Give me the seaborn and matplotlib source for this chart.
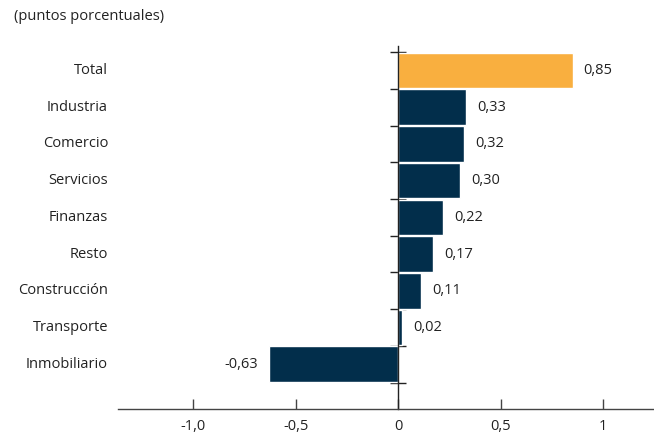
import numpy as np
import pandas as pd
import matplotlib
matplotlib.use('Agg')
import matplotlib.pyplot as plt
import matplotlib.transforms as mtransforms
import seaborn as sns

# datos
sectores = ['Total', 'Industria', 'Comercio', 'Servicios', 'Finanzas', 'Resto',
            'Construcción', 'Transporte', 'Inmobiliario']
valores = [0.85, 0.33, 0.32, 0.30, 0.22, 0.17, 0.11, 0.02, -0.63]
etiquetas = ['0,85', '0,33', '0,32', '0,30', '0,22', '0,17', '0,11', '0,02', '-0,63']
xticks = [-1.0, -0.5, 0, 0.5, 1]
xtick_labels = ['-1,0', '-0,5', '0', '0,5', '1']

naranja = '#F9AF3F'
azul = '#022E4B'

sns.set_style('white')
plt.rcParams['font.family'] = ['Open Sans', 'DejaVu Sans']
fs = 10.5

df = pd.DataFrame({'sector': sectores, 'valor': valores})
colores = [naranja] + [azul] * (len(sectores) - 1)

fig = plt.figure(figsize=(6.54, 4.37), dpi=100)
ax = fig.add_axes([0.180, 0.064, 0.818, 0.830])

sns.barplot(data=df, x='valor', y='sector', hue='sector', palette=colores,
            orient='h', width=0.97, saturation=1, legend=False, ax=ax)

n = len(sectores)
ax.set_xlim(-1.369, 1.241)
ax.set_ylim(n - 1 + 1.22, -0.66)

# eje vertical en cero con marcas entre categorías
ax.spines['left'].set_position(('data', 0))
ax.spines['left'].set_color('#222222')
ax.spines['left'].set_linewidth(1.0)
ax.spines['top'].set_visible(False)
ax.spines['right'].set_visible(False)
ax.spines['bottom'].set_color('#444444')
ax.spines['bottom'].set_linewidth(1.0)
ax.set_yticks(np.arange(n + 1) - 0.5)
ax.set_yticklabels([])
ax.tick_params(axis='y', direction='inout', length=12, width=1.0, color='#222222', left=True)

ax.set_xticks(xticks)
ax.set_xticklabels(xtick_labels, fontsize=fs, color='#222222')
ax.tick_params(axis='x', direction='in', length=7, width=1.0, color='#444444',
               bottom=True, pad=7)
ax.set_xlabel('')
ax.set_ylabel('')

# nombres de sectores a la izquierda
trans = mtransforms.blended_transform_factory(fig.transFigure, ax.transData)
for i, s in enumerate(sectores):
    ax.text(108 / 654, i, s, transform=trans, ha='right', va='center',
            fontsize=fs, color='#222222')

# etiquetas de valor
for k, cont in enumerate(ax.containers):
    ax.bar_label(cont, labels=[etiquetas[k]], padding=8, fontsize=fs, color='#222222')

fig.text(14 / 654, 1 - 17 / 437, '(puntos porcentuales)', ha='left', va='center',
         fontsize=fs, color='#222222')

fig.savefig('out.png', dpi=100)
